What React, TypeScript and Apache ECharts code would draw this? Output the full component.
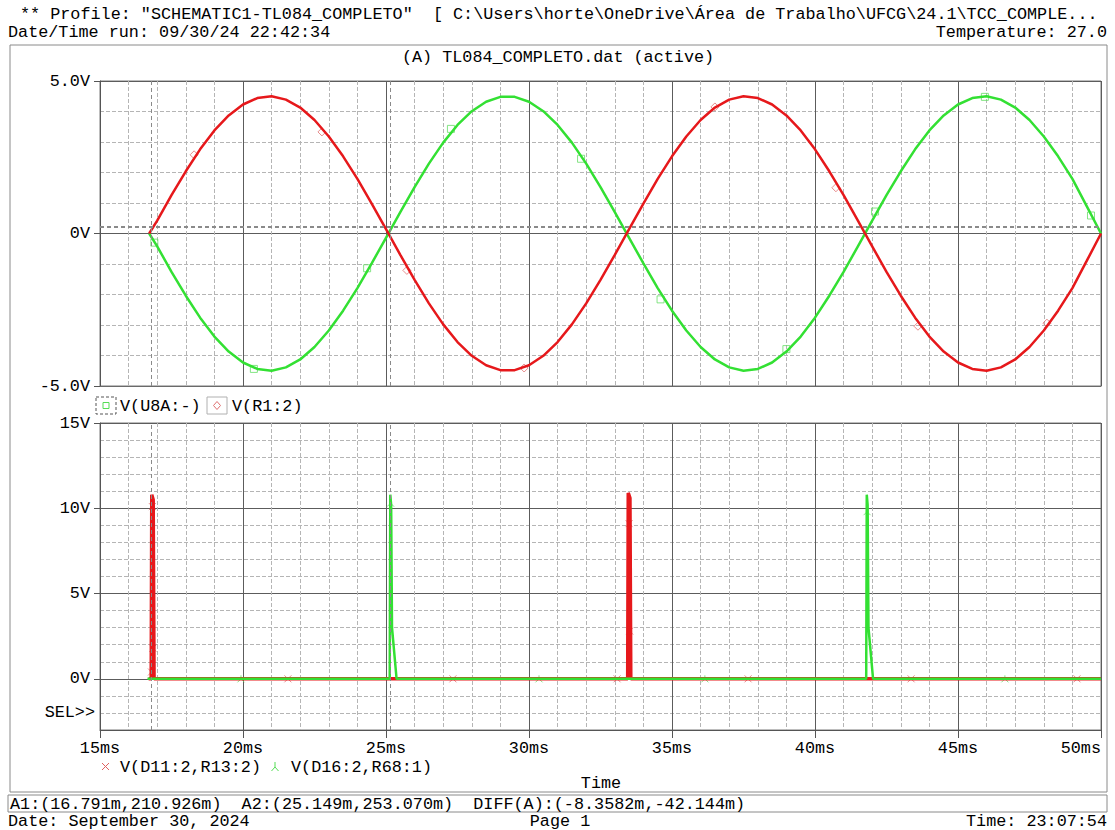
import React, { useEffect, useRef } from "react";
import * as echarts from "echarts";

// ---------- data ----------
// top plot: time (ms) and voltages (V)
const tTop = [16.72, 17.0, 17.5, 18.0, 18.5, 19.0, 19.5, 20.0, 20.5, 21.0, 21.5, 22.0, 22.5, 23.0, 23.5, 24.0, 24.5, 25.0, 25.5, 26.0, 26.5, 27.0, 27.5, 28.0, 28.5, 29.0, 29.5, 30.0, 30.5, 31.0, 31.5, 32.0, 32.5, 33.0, 33.5, 34.0, 34.5, 35.0, 35.5, 36.0, 36.5, 37.0, 37.5, 38.0, 38.5, 39.0, 39.5, 40.0, 40.5, 41.0, 41.5, 42.0, 42.5, 43.0, 43.5, 44.0, 44.5, 45.0, 45.5, 46.0, 46.5, 47.0, 47.5, 48.0, 48.5, 49.0, 49.5, 50.0];
const vR1 = [0, 0.42, 1.26, 2.04, 2.76, 3.38, 3.87, 4.23, 4.44, 4.5, 4.39, 4.13, 3.72, 3.18, 2.53, 1.79, 0.98, 0.14, -0.7, -1.52, -2.29, -2.98, -3.56, -4.01, -4.32, -4.48, -4.48, -4.32, -4.01, -3.56, -2.98, -2.29, -1.52, -0.7, 0.14, 0.98, 1.79, 2.53, 3.18, 3.72, 4.13, 4.39, 4.5, 4.44, 4.23, 3.87, 3.38, 2.76, 2.04, 1.26, 0.42, -0.42, -1.26, -2.04, -2.76, -3.38, -3.87, -4.23, -4.44, -4.5, -4.39, -4.13, -3.72, -3.18, -2.53, -1.79, -0.9, 0];
const vU8A = [0, -0.42, -1.26, -2.04, -2.76, -3.38, -3.87, -4.23, -4.44, -4.5, -4.39, -4.13, -3.72, -3.18, -2.53, -1.79, -0.98, -0.14, 0.7, 1.52, 2.29, 2.98, 3.56, 4.01, 4.32, 4.48, 4.48, 4.32, 4.01, 3.56, 2.98, 2.29, 1.52, 0.7, -0.14, -0.98, -1.79, -2.53, -3.18, -3.72, -4.13, -4.39, -4.5, -4.44, -4.23, -3.87, -3.38, -2.76, -2.04, -1.26, -0.42, 0.42, 1.26, 2.04, 2.76, 3.38, 3.87, 4.23, 4.44, 4.5, 4.39, 4.13, 3.72, 3.18, 2.53, 1.79, 0.9, 0];
// trace markers (top)
const sqT = [16.9, 20.38, 24.34, 27.27, 31.82, 34.6, 39.0, 42.1, 45.94, 49.65];
const sqV = [-0.3, -4.44, -1.14, 3.43, 2.45, -2.16, -3.79, 0.72, 4.48, 0.59];
const dmT = [18.29, 22.76, 25.73, 29.83, 36.5, 40.73, 43.6, 48.11];
const dmV = [2.58, 3.33, -1.21, -4.41, 4.15, 1.5, -3.04, -2.94];

// bottom plot
const tD11 = [16.7, 16.79, 16.81, 16.86, 16.89, 33.45, 33.47, 33.53, 33.56, 50.0];
const vD11 = [0, 0, 10.8, 10.5, 0, 0, 10.9, 10.6, 0, 0];
const tD16 = [16.66, 25.13, 25.15, 25.18, 25.21, 25.37, 41.79, 41.81, 41.84, 41.87, 42.03, 50.0];
const vD16 = [0, 0, 10.8, 10.2, 3.0, 0, 0, 10.8, 10.2, 3.0, 0, 0];
const xT = [16.8, 16.83, 16.85, 21.57, 27.34, 33.08, 33.5, 33.52, 37.66, 43.36, 49.16];
const xV = [0.4, 10.1, 1.8, 0, 0, 0, 9.1, 2.8, 0, 0, 0];
const yT = [19.93, 25.16, 30.35, 36.15, 41.82, 46.64];
const yV = [0, 10.3, 0, 0, 9.8, 0];

// cursors
const cursorX = [16.791, 25.149];
const cursorY = [0.210926, 0.25307];

// axis ticks
const bottomTicks = [0, 5, 10, 15];

const RED = "#e6181b";
const GREEN = "#33e033";
const MONO = '"Liberation Mono", monospace';
const FS = 16.8;

const zip = (a: number[], b: number[]) => a.map((v, i) => [v, b[i]]);

const majorLine = { color: "#5c5c5c", width: 1, type: "solid" as const };
const minorLine = { color: "#b5b5b5", width: 1, type: [4, 2] as any };

export default function App() {
  const ref = useRef<HTMLDivElement>(null);
  useEffect(() => {
    if (!ref.current) return;
    const chart = echarts.init(ref.current, undefined, { renderer: "svg" });
    const labelStyle = { fontFamily: MONO, fontSize: FS, color: "#000" };
    const cursorLine = { color: "#8a8a8a", width: 1, type: [4, 3] as any };
    const txt = (text: string, x: number, y: number, align = "left") => ({
      type: "text",
      x,
      y,
      silent: true,
      style: {
        text,
        font: `${FS}px ${MONO}`,
        fill: "#000",
        textAlign: align,
        textVerticalAlign: "middle",
      },
    });
    const option: any = {
      animation: false,
      backgroundColor: "#fff",
      grid: [
        { left: 100, top: 81, width: 1001, height: 305, show: true, borderColor: "#7a7a7a", borderWidth: 1, containLabel: false, outerBoundsMode: "none" },
        { left: 100, top: 423, width: 1001, height: 307, show: true, borderColor: "#7a7a7a", borderWidth: 1, containLabel: false, outerBoundsMode: "none" },
      ],
      xAxis: [
        {
          type: "value", gridIndex: 0, min: 15, max: 50, interval: 5, position: "bottom",
          axisLine: { show: true, onZero: false, lineStyle: { color: "#6a6a6a" } },
          axisTick: { show: false }, axisLabel: { show: false },
          splitLine: { show: true, lineStyle: majorLine },
          minorTick: { show: false, splitNumber: 5 },
          minorSplitLine: { show: true, lineStyle: minorLine },
        },
        {
          type: "value", gridIndex: 1, min: 15, max: 50, interval: 5, position: "bottom",
          axisLine: { show: true, onZero: false, lineStyle: { color: "#555" } },
          axisTick: { show: true, length: 8, lineStyle: { color: "#555" } },
          axisLabel: { ...labelStyle, margin: 10, alignMaxLabel: "right", formatter: (v: number) => `${v}ms` },
          splitLine: { show: true, lineStyle: majorLine },
          minorTick: { show: false, splitNumber: 5 },
          minorSplitLine: { show: true, lineStyle: minorLine },
        },
      ],
      yAxis: [
        {
          type: "value", gridIndex: 0, min: -5, max: 5, interval: 5, position: "left",
          axisLine: { show: true, onZero: false, lineStyle: { color: "#555" } },
          axisTick: { show: true, length: 6, lineStyle: { color: "#555" } },
          axisLabel: { ...labelStyle, margin: 10, formatter: (v: number) => (v === 0 ? "0V" : `${v.toFixed(1)}V`) },
          splitLine: { show: true, lineStyle: majorLine },
          minorTick: { show: false, splitNumber: 5 },
          minorSplitLine: { show: true, lineStyle: minorLine },
        },
        {
          type: "value", gridIndex: 1, min: -3, max: 15, interval: 1, position: "left",
          axisLine: { show: false }, axisTick: { show: false }, axisLabel: { show: false },
          splitLine: { show: true, lineStyle: minorLine },
        },
        {
          type: "value", gridIndex: 1, min: -3, max: 15, interval: 1, position: "left", offset: 0,
          axisLine: { show: true, onZero: false, lineStyle: { color: "#555" } },
          axisTick: { show: true, length: 6, customValues: bottomTicks, lineStyle: { color: "#555" } },
          axisLabel: { ...labelStyle, margin: 10, customValues: bottomTicks, formatter: (v: number) => `${v}V` },
          splitLine: { show: true, lineStyle: majorLine },
        },
      ],
      series: [
        {
          type: "line", name: "V(U8A:-)", xAxisIndex: 0, yAxisIndex: 0,
          data: zip(tTop, vU8A), showSymbol: false, lineStyle: { color: GREEN, width: 2.5 }, itemStyle: { color: GREEN },
          markLine: {
            silent: true, symbol: ["none", "none"], label: { show: false }, lineStyle: cursorLine,
            data: [...cursorX.map((x) => ({ xAxis: x })), ...cursorY.map((y) => ({ yAxis: y }))],
          },
        },
        {
          type: "line", name: "V(R1:2)", xAxisIndex: 0, yAxisIndex: 0,
          data: zip(tTop, vR1), showSymbol: false, lineStyle: { color: RED, width: 2.5 }, itemStyle: { color: RED },
        },
        {
          type: "scatter", xAxisIndex: 0, yAxisIndex: 0, data: zip(sqT, sqV), symbol: "rect", symbolSize: 7,
          itemStyle: { color: "rgba(0,0,0,0)", borderColor: "#66dd66", borderWidth: 1 },
        },
        {
          type: "scatter", xAxisIndex: 0, yAxisIndex: 0, data: zip(dmT, dmV), symbol: "diamond", symbolSize: 8,
          itemStyle: { color: "rgba(0,0,0,0)", borderColor: "#e07070", borderWidth: 1 },
        },
        {
          type: "line", name: "V(D11:2,R13:2)", xAxisIndex: 1, yAxisIndex: 2,
          data: zip(tD11, vD11), showSymbol: false, lineStyle: { color: RED, width: 3.5 }, itemStyle: { color: RED },
          markLine: {
            silent: true, symbol: ["none", "none"], label: { show: false }, lineStyle: cursorLine,
            data: cursorX.map((x) => ({ xAxis: x })),
          },
        },
        {
          type: "line", name: "V(D16:2,R68:1)", xAxisIndex: 1, yAxisIndex: 2,
          data: zip(tD16, vD16), showSymbol: false, lineStyle: { color: GREEN, width: 2.5 }, itemStyle: { color: GREEN },
        },
        {
          type: "scatter", xAxisIndex: 1, yAxisIndex: 2, data: zip(xT, xV), symbol: "path://M0 0L10 10M10 0L0 10", symbolSize: 7,
          itemStyle: { color: "rgba(0,0,0,0)", borderColor: "#e07070", borderWidth: 1 },
        },
        {
          type: "scatter", xAxisIndex: 1, yAxisIndex: 2, data: zip(yT, yV), symbol: "path://M5 0L5 5L0 10M5 5L10 10", symbolSize: 7,
          itemStyle: { color: "rgba(0,0,0,0)", borderColor: "#66dd66", borderWidth: 1 },
        },
      ],
      graphic: [
        { type: "rect", silent: true, shape: { x: 10, y: 45, width: 1097, height: 747 }, style: { fill: "none", stroke: "#8a8a8a", lineWidth: 1 } },
        { type: "rect", silent: true, shape: { x: 8, y: 795, width: 1099, height: 17 }, style: { fill: "none", stroke: "#8a8a8a", lineWidth: 1 } },
        txt('** Profile: "SCHEMATIC1-TL084_COMPLETO"  [ C:\\Users\\horte\\OneDrive\\Área de Trabalho\\UFCG\\24.1\\TCC_COMPLE...', 20, 14),
        txt("Date/Time run: 09/30/24 22:42:34", 8, 32),
        txt("Temperature: 27.0", 1107, 32, "right"),
        txt("(A) TL084_COMPLETO.dat (active)", 558, 57, "center"),
        // top legend
        { type: "rect", silent: true, shape: { x: 96, y: 397, width: 20, height: 17 }, style: { fill: "none", stroke: "#555", lineDash: [3, 2], lineWidth: 1 } },
        { type: "rect", silent: true, shape: { x: 103, y: 402.5, width: 6, height: 6 }, style: { fill: "none", stroke: "#55dd55", lineWidth: 1 } },
        txt("V(U8A:-)", 120, 406),
        { type: "rect", silent: true, shape: { x: 207, y: 397, width: 20, height: 17 }, style: { fill: "none", stroke: "#b0b0b0", lineWidth: 1 } },
        { type: "polygon", silent: true, shape: { points: [[217, 401.5], [220.5, 405.5], [217, 409.5], [213.5, 405.5]] }, style: { fill: "none", stroke: "#e07070", lineWidth: 1 } },
        txt("V(R1:2)", 232, 406),
        txt("SEL>>", 95, 712, "right"),
        // bottom legend
        { type: "line", silent: true, shape: { x1: 102, y1: 763, x2: 109, y2: 770 }, style: { stroke: "#e06060", lineWidth: 1 } },
        { type: "line", silent: true, shape: { x1: 109, y1: 763, x2: 102, y2: 770 }, style: { stroke: "#e06060", lineWidth: 1 } },
        txt("V(D11:2,R13:2)", 120, 767),
        { type: "polyline", silent: true, shape: { points: [[275, 762], [275, 767], [271.5, 771]] }, style: { fill: "none", stroke: "#55dd55", lineWidth: 1 } },
        { type: "line", silent: true, shape: { x1: 275, y1: 767, x2: 278.5, y2: 771 }, style: { stroke: "#55dd55", lineWidth: 1 } },
        txt("V(D16:2,R68:1)", 291, 767),
        txt("Time", 601, 783, "center"),
        txt("A1:(16.791m,210.926m)  A2:(25.149m,253.070m)  DIFF(A):(-8.3582m,-42.144m)", 10, 804),
        txt("Date: September 30, 2024", 8, 821),
        txt("Page 1", 560, 821, "center"),
        txt("Time: 23:07:54", 1107, 821, "right"),
      ],
    };
    chart.setOption(option);
    return () => chart.dispose();
  }, []);
  return (
    <div
      ref={ref}
      style={{ position: "absolute", left: 0, top: 0, width: 1115, height: 830, background: "#fff" }}
    />
  );
}
